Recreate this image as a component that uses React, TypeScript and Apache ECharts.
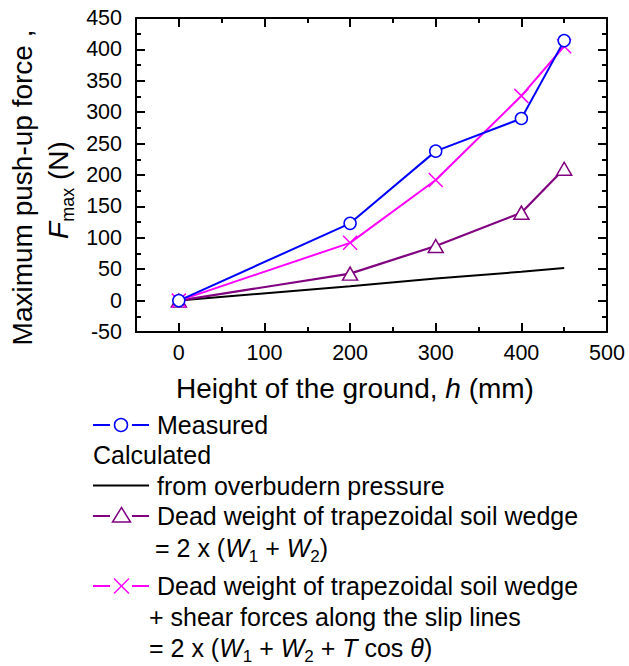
import React, { useEffect, useRef } from 'react';
import * as echarts from 'echarts';

// ---- data ----
const heights = [0, 200, 300, 400, 450];
const measured = [0, 123, 238, 290, 414];
const overburden = [0, 23, 35, 46, 52];
const deadWeight = [0, 43, 87, 140, 210];
const deadWeightShear = [0, 92, 192, 326, 405];

const xMajorTicks = [0, 100, 200, 300, 400, 500];
const xMinorTicks = [50, 150, 250, 350, 450];

const X_MIN = -50;
const X_MAX = 500;
const Y_MIN = -50;
const Y_MAX = 450;

const FONT = '"Liberation Sans", Arial, Helvetica, sans-serif';
const BLUE = '#0000ff';
const MAGENTA = '#ff00ff';
const PURPLE = '#800080';

const pairs = (ys: number[]) => heights.map((h, i) => [h, ys[i]]);

const axisLineStyle = { color: '#000', width: 2 };
const tickLine = { color: '#000', width: 2 };

function xAxisDef(position: 'top' | 'bottom', major: boolean, showLabel: boolean) {
  return {
    type: 'value',
    position,
    min: X_MIN,
    max: X_MAX,
    interval: 50,
    axisLine: { show: major, onZero: false, lineStyle: axisLineStyle },
    axisTick: {
      show: true,
      inside: true,
      length: major ? 9 : 5,
      customValues: major ? xMajorTicks : xMinorTicks,
      lineStyle: tickLine,
    },
    axisLabel: {
      show: showLabel,
      customValues: xMajorTicks,
      margin: 10,
      color: '#000',
      fontSize: 21.5,
      fontFamily: FONT,
    },
    splitLine: { show: false },
  };
}

function yAxisDef(position: 'left' | 'right', showLabel: boolean) {
  return {
    type: 'value',
    position,
    min: Y_MIN,
    max: Y_MAX,
    interval: 50,
    axisLine: { show: true, onZero: false, lineStyle: axisLineStyle },
    axisTick: { show: true, inside: true, length: 9, lineStyle: tickLine },
    minorTick: { show: true, splitNumber: 2, length: 5, lineStyle: tickLine },
    axisLabel: {
      show: showLabel,
      margin: 14,
      color: '#000',
      fontSize: 21.5,
      fontFamily: FONT,
    },
    splitLine: { show: false },
    minorSplitLine: { show: false },
  };
}

const TITLE_SIZE = 28;
const LEG_SIZE = 25;

const richTitle = {
  n: { fontSize: TITLE_SIZE, fontFamily: FONT, fill: '#000', lineHeight: 36 },
  i: { fontSize: TITLE_SIZE, fontFamily: FONT, fontStyle: 'italic', fill: '#000', lineHeight: 36 },
  s: { fontSize: 18, fontFamily: FONT, fill: '#000', lineHeight: 12, verticalAlign: 'bottom' },
};

const richLeg = {
  n: { fontSize: LEG_SIZE, fontFamily: FONT, fill: '#000', lineHeight: 34 },
  i: { fontSize: LEG_SIZE, fontFamily: FONT, fontStyle: 'italic', fill: '#000', lineHeight: 34 },
  s: { fontSize: 17, fontFamily: FONT, fill: '#000', lineHeight: 12, verticalAlign: 'bottom' },
};

function legText(x: number, y: number, text: string) {
  return {
    type: 'text',
    x,
    y,
    style: {
      text,
      rich: richLeg,
      fontSize: LEG_SIZE,
      fontFamily: FONT,
      fill: '#000',
      align: 'left',
      verticalAlign: 'middle',
    },
  };
}

function segs(y: number, color: string, split: boolean) {
  if (!split) {
    return [{ type: 'line', shape: { x1: 93, y1: y, x2: 149, y2: y }, style: { stroke: color, lineWidth: 2 } }];
  }
  return [
    { type: 'line', shape: { x1: 93, y1: y, x2: 110, y2: y }, style: { stroke: color, lineWidth: 2 } },
    { type: 'line', shape: { x1: 132, y1: y, x2: 149, y2: y }, style: { stroke: color, lineWidth: 2 } },
  ];
}

export default function App() {
  const ref = useRef<HTMLDivElement>(null);

  useEffect(() => {
    if (!ref.current) return;
    const chart = echarts.init(ref.current, null, { renderer: 'svg' });

    const graphicElements: any[] = [
      // x-axis title
      {
        type: 'text',
        x: 176,
        y: 388.6,
        style: {
          text: '{n|Height of the ground, }{i|h}{n| (mm)}',
          rich: richTitle,
          fontSize: TITLE_SIZE,
          fontFamily: FONT,
          fill: '#000',
          align: 'left',
          verticalAlign: 'middle',
        },
      },
      // y-axis title, line 1
      {
        type: 'text',
        x: 22,
        y: 187.5,
        rotation: Math.PI / 2,
        style: {
          text: '{n|Maximum push-up force ,}',
          rich: richTitle,
          fontSize: TITLE_SIZE,
          fontFamily: FONT,
          fill: '#000',
          align: 'center',
          verticalAlign: 'middle',
        },
      },
      // y-axis title, line 2
      {
        type: 'text',
        x: 58.5,
        y: 190,
        rotation: Math.PI / 2,
        style: {
          text: '{i|F}{s|max}{n| (N)}',
          rich: richTitle,
          fontSize: TITLE_SIZE,
          fontFamily: FONT,
          fill: '#000',
          align: 'center',
          verticalAlign: 'middle',
        },
      },
      // legend: Measured
      ...segs(425, BLUE, true),
      { type: 'circle', shape: { cx: 121, cy: 425, r: 6.5 }, style: { fill: '#fff', stroke: BLUE, lineWidth: 1.5 } },
      legText(157, 425, '{n|Measured}'),
      // Calculated
      legText(93, 455, '{n|Calculated}'),
      // overburden
      ...segs(485.5, '#000', false),
      legText(157, 485.5, '{n|from overbudern pressure}'),
      // dead weight
      ...segs(516, PURPLE, true),
      {
        type: 'polygon',
        shape: { points: [[112.5, 522], [130.5, 522], [121.5, 507.5]] },
        style: { fill: '#fff', stroke: PURPLE, lineWidth: 1.5 },
      },
      legText(157, 516, '{n|Dead weight of trapezoidal soil wedge}'),
      legText(155, 548, '{n|= 2 x (}{i|W}{s|1}{n| + }{i|W}{s|2}{n|)}'),
      // dead weight + shear
      ...segs(586, MAGENTA, true),
      { type: 'line', shape: { x1: 114, y1: 578.5, x2: 129, y2: 593.5 }, style: { stroke: MAGENTA, lineWidth: 1.5 } },
      { type: 'line', shape: { x1: 129, y1: 578.5, x2: 114, y2: 593.5 }, style: { stroke: MAGENTA, lineWidth: 1.5 } },
      legText(157, 586, '{n|Dead weight of trapezoidal soil wedge}'),
      legText(149, 616.5, '{n|+ shear forces along the slip lines}'),
      legText(149, 648, '{n|= 2 x (}{i|W}{s|1}{n| + }{i|W}{s|2}{n| + }{i|T}{n| cos }{i|θ}{n|)}'),
    ];

    const option: any = {
      animation: false,
      backgroundColor: '#fff',
      grid: {
        left: 136,
        top: 18,
        width: 471,
        height: 314,
        containLabel: false,
        outerBoundsMode: 'none',
      },
      xAxis: [
        xAxisDef('bottom', true, true),
        xAxisDef('bottom', false, false),
        xAxisDef('top', true, false),
        xAxisDef('top', false, false),
      ],
      yAxis: [yAxisDef('left', true), yAxisDef('right', false)],
      series: [
        {
          type: 'line',
          name: 'from overbudern pressure',
          data: pairs(overburden),
          symbol: 'none',
          lineStyle: { color: '#000', width: 2 },
          z: 2,
        },
        {
          type: 'line',
          name: 'Dead weight of trapezoidal soil wedge',
          data: pairs(deadWeight),
          symbol: 'triangle',
          symbolSize: [15, 13],
          itemStyle: { color: '#fff', borderColor: PURPLE, borderWidth: 1.5 },
          lineStyle: { color: PURPLE, width: 2.2 },
          z: 3,
        },
        {
          type: 'line',
          name: 'Dead weight + shear forces',
          data: pairs(deadWeightShear),
          symbol: 'path://M0,0L10,10M10,0L0,10',
          symbolSize: 14,
          itemStyle: { color: MAGENTA, borderColor: MAGENTA, borderWidth: 1.5 },
          lineStyle: { color: MAGENTA, width: 2 },
          z: 4,
        },
        {
          type: 'line',
          name: 'Measured',
          data: pairs(measured),
          symbol: 'circle',
          symbolSize: 12,
          itemStyle: { color: '#fff', borderColor: BLUE, borderWidth: 1.5 },
          lineStyle: { color: BLUE, width: 2 },
          z: 5,
        },
      ],
      graphic: { elements: graphicElements },
    };

    chart.setOption(option);
    return () => {
      chart.dispose();
    };
  }, []);

  return (
    <div
      ref={ref}
      style={{ position: 'absolute', left: 0, top: 0, width: 629, height: 666, background: '#fff' }}
    />
  );
}
